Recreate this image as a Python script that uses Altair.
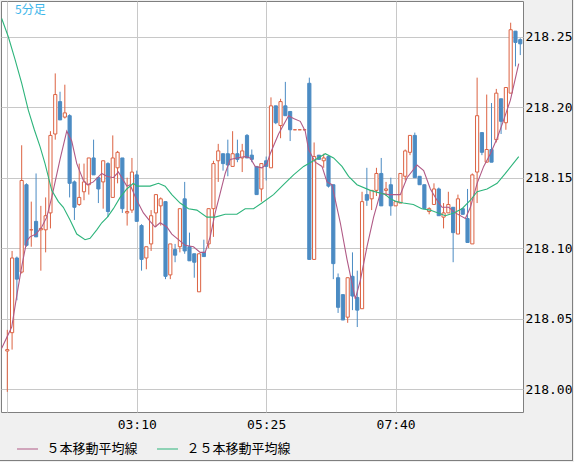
import altair as alt
import pandas as pd

TITLE = "5分足"

opens = [218.027, 218.040, 218.093, 218.083, 218.145, 218.113, 218.119, 218.113, 218.113, 218.125,
         218.181, 218.204, 218.193, 218.194, 218.147, 218.131, 218.140, 218.145, 218.164, 218.150,
         218.147, 218.160, 218.136, 218.157, 218.164, 218.125, 218.127, 218.152, 218.116, 218.093,
         218.103, 218.125, 218.130, 218.133, 218.081, 218.099, 218.101, 218.135, 218.101, 218.096,
         218.069, 218.097, 218.103, 218.128, 218.162, 218.167, 218.167, 218.158, 218.167, 218.164,
         218.180, 218.166, 218.158, 218.142, 218.162, 218.157, 218.201, 218.187, 218.201, 218.197,
         218.184, 218.184, 218.184, 218.217, 218.092, 218.166, 218.162, 218.165, 218.145, 218.079,
         218.067, 218.051, 218.080, 218.065, 218.057, 218.138, 218.135, 218.141, 218.153, 218.141,
         218.145, 218.130, 218.132, 218.151, 218.168, 218.180, 218.151, 218.145, 218.126, 218.131,
         218.142, 218.122, 218.125, 218.129, 218.110, 218.128, 218.121, 218.103, 218.154, 218.182,
         218.161, 218.170, 218.177, 218.206, 218.189, 218.210, 218.254, 218.248]
highs = [218.042, 218.098, 218.094, 218.173, 218.146, 218.133, 218.153, 218.130, 218.136, 218.183,
         218.224, 218.211, 218.216, 218.195, 218.148, 218.160, 218.160, 218.164, 218.177, 218.150,
         218.162, 218.161, 218.180, 218.169, 218.164, 218.150, 218.164, 218.155, 218.117, 218.101,
         218.127, 218.138, 218.136, 218.133, 218.103, 218.103, 218.128, 218.147, 218.111, 218.096,
         218.096, 218.106, 218.128, 218.162, 218.174, 218.167, 218.177, 218.183, 218.177, 218.174,
         218.181, 218.170, 218.158, 218.160, 218.165, 218.207, 218.201, 218.206, 218.218, 218.197,
         218.184, 218.184, 218.184, 218.221, 218.175, 218.166, 218.167, 218.165, 218.145, 218.082,
         218.067, 218.079, 218.097, 218.084, 218.140, 218.157, 218.141, 218.157, 218.164, 218.147,
         218.150, 218.133, 218.153, 218.170, 218.180, 218.182, 218.151, 218.145, 218.129, 218.146,
         218.143, 218.132, 218.140, 218.129, 218.138, 218.128, 218.142, 218.153, 218.221, 218.182,
         218.209, 218.203, 218.213, 218.206, 218.214, 218.260, 218.254, 218.249]
lows = [217.998, 218.028, 218.063, 218.082, 218.101, 218.101, 218.108, 218.084, 218.097, 218.114,
        218.177, 218.191, 218.192, 218.136, 218.120, 218.130, 218.134, 218.138, 218.152, 218.132,
        218.128, 218.122, 218.136, 218.146, 218.125, 218.116, 218.125, 218.119, 218.084, 218.085,
        218.098, 218.115, 218.116, 218.078, 218.078, 218.090, 218.097, 218.096, 218.091, 218.079,
        218.069, 218.094, 218.100, 218.108, 218.147, 218.155, 218.151, 218.158, 218.161, 218.154,
        218.164, 218.161, 218.138, 218.133, 218.148, 218.157, 218.188, 218.178, 218.194, 218.176,
        218.184, 218.184, 218.184, 218.092, 218.092, 218.163, 218.157, 218.143, 218.078, 218.054,
        218.049, 218.047, 218.056, 218.044, 218.057, 218.130, 218.127, 218.137, 218.130, 218.137,
        218.123, 218.130, 218.132, 218.148, 218.166, 218.150, 218.145, 218.128, 218.124, 218.131,
        218.123, 218.114, 218.125, 218.090, 218.110, 218.124, 218.104, 218.103, 218.132, 218.166,
        218.161, 218.161, 218.175, 218.181, 218.184, 218.210, 218.229, 218.237]
closes = [218.028, 218.093, 218.078, 218.148, 218.102, 218.113, 218.108, 218.114, 218.123, 218.180,
          218.209, 218.191, 218.196, 218.146, 218.129, 218.136, 218.147, 218.164, 218.152, 218.142,
          218.162, 218.126, 218.164, 218.168, 218.128, 218.126, 218.154, 218.119, 218.092, 218.101,
          218.123, 218.138, 218.135, 218.080, 218.103, 218.095, 218.128, 218.098, 218.091, 218.090,
          218.096, 218.094, 218.128, 218.160, 218.169, 218.160, 218.159, 218.167, 218.163, 218.169,
          218.164, 218.163, 218.138, 218.160, 218.158, 218.201, 218.189, 218.204, 218.194, 218.184,
          218.184, 218.184, 218.184, 218.092, 218.165, 218.163, 218.164, 218.144, 218.089, 218.058,
          218.049, 218.079, 218.066, 218.056, 218.133, 218.134, 218.141, 218.153, 218.130, 218.142,
          218.130, 218.133, 218.153, 218.169, 218.180, 218.150, 218.145, 218.128, 218.128, 218.142,
          218.123, 218.125, 218.131, 218.111, 218.135, 218.124, 218.104, 218.152, 218.194, 218.168,
          218.170, 218.161, 218.210, 218.190, 218.214, 218.255, 218.246, 218.245]

tick_pos = [0, 27, 54, 81]
tick_labels = ["", "03:10", "05:25", "07:40"]
price_ticks = [218.00, 218.05, 218.10, 218.15, 218.20, 218.25]

ma_names = ["５本移動平均線", "２５本移動平均線"]
ma5_b = [-1.17, 0.92, 1.96, 3.01, 4.05, 4.74, 5.99, 7.18, 8.23, 9.27, 11.0, 12.4, 13.44, 14.49,
         15.87, 16.7, 17.95, 19.71, 20.75, 22.13, 23.17, 24.93, 25.62, 27.01, 28.39, 29.79, 30.83,
         31.88, 33.28, 34.32, 35.7, 37.1, 38.83, 40.23, 41.27, 42.32, 43.36, 44.41, 45.45, 46.49,
         47.89, 49.62, 50.67, 51.71, 53.11, 54.15, 54.84, 56.58, 58.66, 59.71, 61.11, 62.15, 62.84,
         64.24, 65.64, 66.68, 67.72, 69.46, 70.86, 72.59, 73.63, 75.03, 76.41, 77.81, 79.54, 81.3,
         81.98, 83.38, 85.47, 86.85, 88.25, 89.64, 90.69, 92.07, 93.46, 95.55, 96.6, 98.0, 99.37,
         100.77, 102.17, 103.55, 104.94, 106.68]
ma5_p = [218.029, 218.044, 218.066, 218.087, 218.105, 218.108, 218.110, 218.115, 218.122, 218.136,
         218.163, 218.183, 218.176, 218.160, 218.148, 218.145, 218.147, 218.153, 218.151, 218.150,
         218.154, 218.144, 218.145, 218.134, 218.125, 218.119, 218.115, 218.118, 218.115, 218.110,
         218.106, 218.102, 218.101, 218.097, 218.097, 218.108, 218.125, 218.139, 218.153, 218.163,
         218.164, 218.165, 218.164, 218.158, 218.157, 218.160, 218.167, 218.181, 218.194, 218.192,
         218.190, 218.183, 218.170, 218.161, 218.158, 218.147, 218.145, 218.118, 218.092, 218.064,
         218.077, 218.101, 218.122, 218.139, 218.138, 218.138, 218.138, 218.150, 218.159, 218.155,
         218.142, 218.134, 218.129, 218.129, 218.125, 218.121, 218.129, 218.146, 218.158, 218.167,
         218.178, 218.191, 218.205, 218.231]
ma25_b = [-1.17, 0.21, 1.61, 3.01, 4.38, 5.64, 6.83, 7.87, 9.27, 10.65, 11.69, 13.09, 14.49, 16.22,
          17.27, 18.66, 19.71, 20.88, 22.13, 23.53, 24.93, 26.3, 27.01, 29.79, 31.52, 32.92, 34.32,
          36.05, 37.79, 39.54, 41.63, 43.36, 45.45, 47.89, 49.62, 51.36, 53.11, 55.53, 57.62, 59.71,
          61.8, 63.88, 66.33, 68.06, 69.81, 71.19, 72.94, 75.72, 78.85, 79.9, 81.23, 82.61, 84.7,
          86.45, 88.18, 91.38, 93.12, 94.86, 96.6, 98.0, 100.08, 102.17, 103.9, 106.68]
ma25_p = [218.263, 218.250, 218.234, 218.217, 218.198, 218.184, 218.172, 218.160, 218.141, 218.133,
          218.129, 218.120, 218.110, 218.106, 218.107, 218.113, 218.118, 218.122, 218.128, 218.136,
          218.142, 218.146, 218.144, 218.144, 218.146, 218.144, 218.138, 218.132, 218.128, 218.127,
          218.122, 218.122, 218.124, 218.124, 218.128, 218.128, 218.132, 218.138, 218.145, 218.152,
          218.158, 218.162, 218.167, 218.164, 218.158, 218.151, 218.145, 218.141, 218.138, 218.135,
          218.133, 218.132, 218.131, 218.128, 218.127, 218.123, 218.125, 218.128, 218.134, 218.140,
          218.142, 218.146, 218.153, 218.165]

RED = "#dc6242"
BLUE = "#4b8bc3"
MAUVE = "#b05a86"
GREEN = "#2db47b"
GRID = "#c8c8c8"
FRAME = "#7f7f7f"
MONO = "DejaVu Sans Mono"
CJK = "Noto Sans CJK JP"

candles = pd.DataFrame({"b": list(range(len(opens))), "open": opens, "high": highs,
                        "low": lows, "close": closes})
ma = pd.concat([
    pd.DataFrame({"series": ma_names[0], "b": ma5_b, "p": ma5_p}),
    pd.DataFrame({"series": ma_names[1], "b": ma25_b, "p": ma25_p}),
], ignore_index=True)

xscale = alt.Scale(domain=[-1.314, 107.57], nice=False, zero=False)
yscale = alt.Scale(domain=[217.9837, 218.2754], nice=False, zero=False)

label_expr = " : ".join(f"datum.value == {p} ? '{l}'" for p, l in zip(tick_pos, tick_labels)) + " : ''"

xaxis = alt.Axis(values=tick_pos, labelExpr=label_expr, title=None, grid=True, ticks=False,
                 domain=False, labelPadding=6, labelFont=MONO, labelFontSize=13,
                 labelColor="black", gridColor=GRID, gridWidth=1, labelFlush=False,
                 labelOverlap=False)
yaxis = alt.Axis(orient="right", values=price_ticks, format=".2f", title=None, grid=True,
                 ticks=False, domain=False, labelPadding=2, labelFont=MONO, labelFontSize=13,
                 labelColor="black", gridColor=GRID, gridWidth=1, labelFlush=False,
                 labelOverlap=False, labelAlign="left")

up = alt.datum.close >= alt.datum.open
stroke_cond = alt.when(up).then(alt.value(RED)).otherwise(alt.value(BLUE))
fill_cond = alt.when(up).then(alt.value("white")).otherwise(alt.value(BLUE))

wicks = alt.Chart(candles).mark_rule(strokeWidth=1).encode(
    x=alt.X("b:Q", scale=xscale, axis=xaxis),
    y=alt.Y("low:Q", scale=yscale, axis=yaxis),
    y2="high:Q",
    stroke=stroke_cond,
)

bodies = alt.Chart(candles).transform_calculate(
    bl="datum.b - 0.33", br="datum.b + 0.33"
).mark_rect(strokeWidth=1).encode(
    x=alt.X("bl:Q", scale=xscale, axis=xaxis),
    x2="br:Q",
    y=alt.Y("open:Q", scale=yscale, axis=yaxis),
    y2="close:Q",
    fill=fill_cond,
    stroke=stroke_cond,
)

lines = alt.Chart(ma).mark_line(strokeWidth=1.1, clip=True).encode(
    x=alt.X("b:Q", scale=xscale, axis=xaxis),
    y=alt.Y("p:Q", scale=yscale, axis=yaxis),
    color=alt.Color("series:N", scale=alt.Scale(domain=ma_names, range=[MAUVE, GREEN]),
                    legend=alt.Legend(orient="none", legendX=15.5, legendY=437,
                                      direction="horizontal", title=None, symbolType="stroke",
                                      symbolSize=441, symbolStrokeWidth=1, labelFont=CJK,
                                      labelFontSize=13, labelColor="black", labelOffset=8,
                                      columnPadding=16, padding=0)),
    order="b:Q",
)

title_text = alt.Chart(pd.DataFrame({"t": [TITLE]})).mark_text(
    align="left", baseline="middle", font=CJK, fontSize=12, color="#3db6ea"
).encode(text="t:N", x=alt.value(14), y=alt.value(9))

frame_df = pd.DataFrame({"k": [0]})
frame_r = alt.Chart(frame_df).mark_rule(color=FRAME, strokeWidth=1).encode(
    x=alt.value(571.5), y=alt.value(-1), y2=alt.value(460))
frame_b = alt.Chart(frame_df).mark_rule(color=FRAME, strokeWidth=1).encode(
    x=alt.value(-1), x2=alt.value(572), y=alt.value(459.5))

chart = alt.layer(wicks, bodies, lines, title_text, frame_r, frame_b).properties(
    width=522, height=411,
    autosize=alt.AutoSizeParams(type="none"),
    padding={"left": 1, "top": 1, "right": 51, "bottom": 50},
    background="#f0f0f0",
).configure_view(stroke=FRAME, strokeWidth=1, fill="white")

chart.save("out.html", embed_options={"renderer": "svg", "actions": False})
